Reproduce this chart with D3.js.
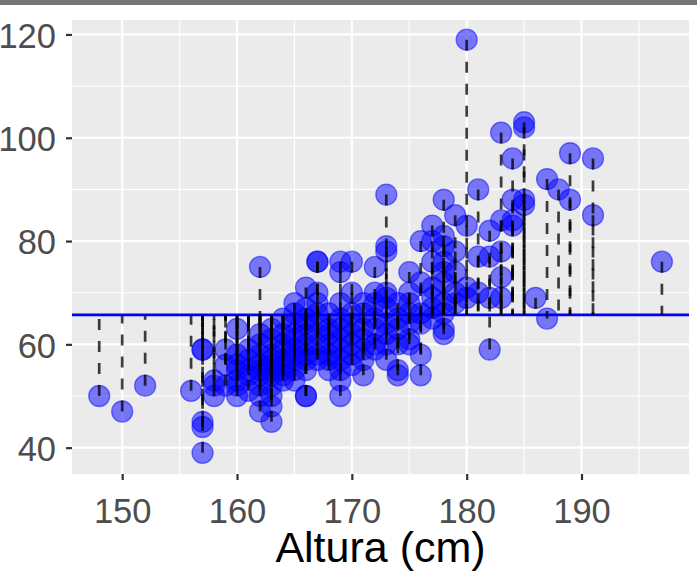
<!DOCTYPE html>
<html>
<head>
<meta charset="utf-8">
<script src="https://cdn.jsdelivr.net/npm/d3@7"></script>
<style>
  html, body { margin: 0; padding: 0; background: #ffffff; }
  svg { display: block; }
</style>
</head>
<body>
<svg id="chart" width="697" height="572"></svg>
<script>
// ---- data (height in cm, weight in kg) ----
const heightCm = [
  148, 150, 152, 156,
  157, 157, 157, 157, 157,
  158, 158, 158,
  159, 159, 159,
  160, 160, 160, 160, 160, 160, 160,
  161, 161, 161, 161, 161,
  162, 162, 162, 162, 162, 162, 162, 162, 162, 162,
  163, 163, 163, 163, 163, 163, 163, 163, 163, 163, 163,
  164, 164, 164, 164, 164, 164, 164, 164, 164,
  165, 165, 165, 165, 165, 165, 165, 165, 165, 165,
  166, 166, 166, 166, 166, 166, 166, 166, 166, 166, 166,
  167, 167, 167, 167, 167, 167, 167, 167, 167, 167,
  168, 168, 168, 168, 168, 168, 168,
  169, 169, 169, 169, 169, 169, 169, 169, 169, 169, 169,
  170, 170, 170, 170, 170, 170, 170, 170,
  171, 171, 171, 171, 171, 171, 171,
  172, 172, 172, 172, 172, 172, 172,
  173, 173, 173, 173, 173, 173, 173, 173, 173, 173,
  174, 174, 174, 174, 174, 174,
  175, 175, 175, 175, 175, 175, 175,
  176, 176, 176, 176, 176, 176,
  177, 177, 177, 177, 177, 177, 177,
  178, 178, 178, 178, 178, 178, 178, 178, 178, 178,
  179, 179, 179, 179, 179,
  180, 180, 180, 180,
  181, 181, 181,
  182, 182, 182, 182,
  183, 183, 183, 183, 183,
  184, 184, 184, 184,
  185, 185, 185, 185,
  186, 187, 187, 188, 189, 189, 191, 191, 197
];
const weightKg = [
  50, 47, 52, 51,
  59, 59, 45, 44, 39,
  53, 52, 50,
  59, 56, 52,
  63, 58, 56, 55, 53, 52, 50,
  59, 57, 55, 54, 51,
  75, 62, 60, 58, 56, 55, 54, 52, 50, 47,
  63, 61, 58, 57, 56, 55, 54, 52, 50, 48, 45,
  65, 62, 60, 59, 57, 56, 55, 54, 53,
  68, 66, 64, 62, 61, 59, 58, 57, 55, 53,
  71, 67, 65, 64, 62, 60, 58, 57, 55, 50, 50,
  76, 76, 70, 68, 66, 64, 62, 60, 58, 57,
  66, 63, 62, 60, 58, 57, 55,
  76, 74, 68, 65, 63, 61, 59, 57, 55, 53, 50,
  76, 70, 66, 64, 62, 60, 58, 56,
  68, 66, 63, 61, 59, 57, 54,
  75, 70, 68, 65, 63, 60, 59,
  89, 79, 78, 70, 69, 67, 64, 62, 60, 57,
  68, 65, 63, 60, 55, 54,
  74, 70, 68, 66, 64, 61, 60,
  80, 72, 66, 64, 58, 54,
  83, 80, 76, 71, 69, 67, 65,
  88, 81, 79, 76, 74, 72, 68, 66, 63, 62,
  85, 78, 74, 70, 68,
  119, 83, 71, 69,
  90, 77, 70,
  82, 77, 69, 59,
  101, 84, 78, 73, 69,
  96, 88, 84, 83,
  103, 102, 88, 87,
  69, 92, 65, 90, 97, 88, 96, 85, 76
];
const meanWeight = 65.7;

const xMajorTicks = [150, 160, 170, 180, 190];
const xMinorTicks = [155, 165, 175, 185, 195];
const yMajorTicks = [40, 60, 80, 100, 120];
const yMinorTicks = [50, 70, 90, 110];
const xTitle = "Altura (cm)";

// ---- layout ----
const panel = { left: 72, right: 689, top: 20, bottom: 474 };
const xDomain = [145.63, 199.36];
const yDomain = [34.9, 122.8];

const svg = d3.select("#chart");

// top grey strip
svg.append("rect").attr("x", 0).attr("y", 0).attr("width", 697).attr("height", 5).attr("fill", "#767676");

const x = d3.scaleLinear().domain(xDomain).range([panel.left, panel.right]);
const y = d3.scaleLinear().domain(yDomain).range([panel.bottom, panel.top]);

const points = heightCm.map((h, i) => ({ h: h, w: weightKg[i] }));

// panel background
svg.append("rect")
  .attr("x", panel.left).attr("y", panel.top)
  .attr("width", panel.right - panel.left).attr("height", panel.bottom - panel.top)
  .attr("fill", "#EBEBEB");

const grid = svg.append("g");
grid.selectAll(".xmin").data(xMinorTicks).join("line")
  .attr("x1", d => x(d)).attr("x2", d => x(d))
  .attr("y1", panel.top).attr("y2", panel.bottom)
  .attr("stroke", "#fff").attr("stroke-width", 1.1);
grid.selectAll(".ymin").data(yMinorTicks).join("line")
  .attr("y1", d => y(d)).attr("y2", d => y(d))
  .attr("x1", panel.left).attr("x2", panel.right)
  .attr("stroke", "#fff").attr("stroke-width", 1.1);
grid.selectAll(".xmaj").data(xMajorTicks).join("line")
  .attr("x1", d => x(d)).attr("x2", d => x(d))
  .attr("y1", panel.top).attr("y2", panel.bottom)
  .attr("stroke", "#fff").attr("stroke-width", 2.2);
grid.selectAll(".ymaj").data(yMajorTicks).join("line")
  .attr("y1", d => y(d)).attr("y2", d => y(d))
  .attr("x1", panel.left).attr("x2", panel.right)
  .attr("stroke", "#fff").attr("stroke-width", 2.2);

// clip to panel
svg.append("clipPath").attr("id", "clip")
  .append("rect")
  .attr("x", panel.left).attr("y", panel.top)
  .attr("width", panel.right - panel.left).attr("height", panel.bottom - panel.top);

const plot = svg.append("g").attr("clip-path", "url(#clip)");

// points
plot.selectAll("circle").data(points).join("circle")
  .attr("cx", d => x(d.h)).attr("cy", d => y(d.w))
  .attr("r", 10.5)
  .attr("fill", "blue").attr("fill-opacity", 0.5)
  .attr("stroke", "blue").attr("stroke-opacity", 0.5).attr("stroke-width", 1.3);

// mean line
plot.append("line")
  .attr("x1", panel.left).attr("x2", panel.right)
  .attr("y1", y(meanWeight)).attr("y2", y(meanWeight))
  .attr("stroke", "blue").attr("stroke-width", 2.6);

// residual segments (dash pattern starts at the point)
plot.selectAll(".seg").data(points).join("line")
  .attr("class", "seg")
  .attr("x1", d => x(d.h)).attr("x2", d => x(d.h))
  .attr("y1", d => y(d.w)).attr("y2", y(meanWeight))
  .attr("stroke", "#000").attr("stroke-opacity", 0.75)
  .attr("stroke-width", 2.7)
  .attr("stroke-dasharray", "11,11");

// axes
const fontFam = "'Liberation Sans', Arial, Helvetica, sans-serif";
const xAxis = svg.append("g")
  .attr("transform", `translate(0,${panel.bottom})`)
  .call(d3.axisBottom(x).tickValues(xMajorTicks).tickSize(6).tickPadding(18.5).tickFormat(d3.format("d")));
const yAxis = svg.append("g")
  .attr("transform", `translate(${panel.left},0)`)
  .call(d3.axisLeft(y).tickValues(yMajorTicks).tickSize(6).tickPadding(10).tickFormat(d3.format("d")));

[xAxis, yAxis].forEach(g => {
  g.select(".domain").remove();
  g.selectAll(".tick line").attr("stroke", "#333").attr("stroke-width", 2.2);
  g.selectAll(".tick text")
    .attr("fill", "#4D4D4D")
    .style("font-family", fontFam)
    .style("font-size", "34.5px");
});
yAxis.selectAll(".tick text").attr("dy", "0.37em");

svg.append("text")
  .attr("x", (panel.left + panel.right) / 2)
  .attr("y", 562)
  .attr("text-anchor", "middle")
  .attr("fill", "#000")
  .style("font-family", fontFam)
  .style("font-size", "43px")
  .text(xTitle);
</script>
</body>
</html>
